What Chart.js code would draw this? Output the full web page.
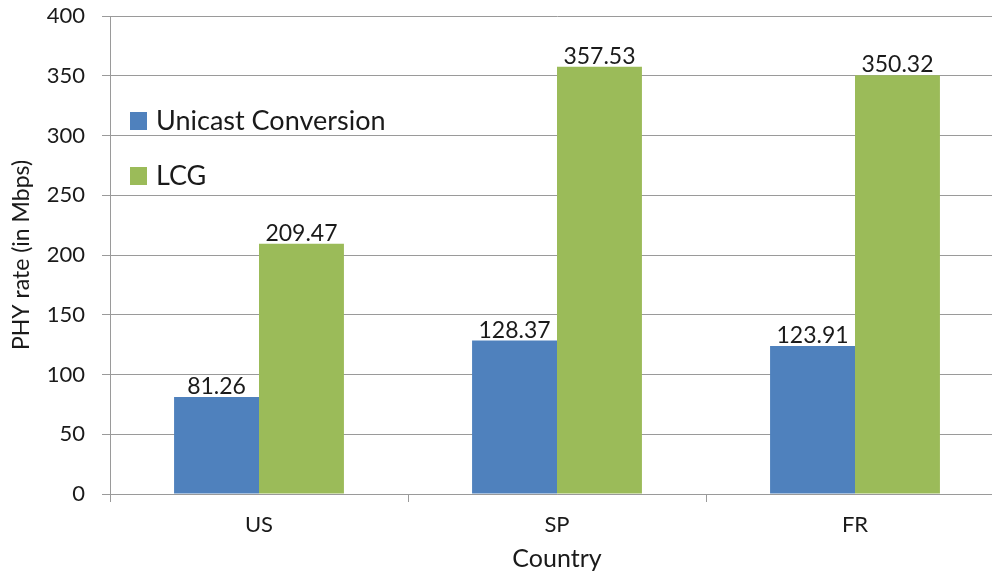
<!DOCTYPE html>
<html>
<head>
<meta charset="utf-8">
<script src="https://cdn.jsdelivr.net/npm/chart.js@4"></script>
<style>
    html, body { margin: 0; padding: 0; background: #fff; overflow: hidden; }
    #wrap { width: 1010px; height: 574px; position: relative; }
</style>
</head>
<body>
<div id="wrap"><canvas id="chart"></canvas></div>
<script>
const countries = ['US', 'SP', 'FR'];
const unicastValues = [81.26, 128.37, 123.91];
const lcgValues = [209.47, 357.53, 350.32];
const seriesNames = ['Unicast Conversion', 'LCG'];
const seriesColors = ['#4f81bd', '#9bbb59'];

const fontFamily = "Lato, 'Open Sans', sans-serif";
const gridColor = '#9a9a9a';

// values above each bar
const valueLabels = {
    id: 'valueLabels',
    afterDatasetsDraw(chart) {
        const ctx = chart.ctx;
        ctx.save();
        ctx.font = `23px ${fontFamily}`;
        ctx.fillStyle = '#1a1a1a';
        ctx.textAlign = 'center';
        ctx.textBaseline = 'bottom';
        chart.data.datasets.forEach((ds, i) => {
            chart.getDatasetMeta(i).data.forEach((bar, j) => {
                ctx.fillText(ds.data[j].toFixed(2), bar.x, bar.y + 1);
            });
        });
        ctx.restore();
    }
};

// legend drawn inside the plot, stacked
const insideLegend = {
    id: 'insideLegend',
    afterDraw(chart) {
        const ctx = chart.ctx;
        ctx.save();
        ctx.font = `27px ${fontFamily}`;
        ctx.textBaseline = 'middle';
        chart.data.datasets.forEach((ds, i) => {
            const y = 121 + i * 55;
            ctx.fillStyle = ds.backgroundColor;
            ctx.fillRect(130, y - 9, 17, 18);
            ctx.fillStyle = '#1a1a1a';
            ctx.fillText(ds.label, 156, y);
        });
        ctx.restore();
    }
};

new Chart(document.getElementById('chart'), {
    type: 'bar',
    data: {
        labels: countries,
        datasets: [
            { label: seriesNames[0], data: unicastValues, backgroundColor: seriesColors[0] },
            { label: seriesNames[1], data: lcgValues, backgroundColor: seriesColors[1] }
        ]
    },
    options: {
        responsive: true,
        maintainAspectRatio: false,
        animation: false,
        layout: { padding: { top: 16, right: 6, left: 0, bottom: 0 } },
        datasets: { bar: { categoryPercentage: 0.57, barPercentage: 1 } },
        plugins: {
            legend: { display: false },
            tooltip: { enabled: false }
        },
        scales: {
            x: {
                afterFit(scale) { scale.height = 80; },
                grid: { drawOnChartArea: false, color: gridColor, tickLength: 8 },
                border: { color: gridColor },
                ticks: { color: '#1a1a1a', font: { family: fontFamily, size: 22 }, padding: 10 },
                title: {
                    display: true, text: 'Country', color: '#1a1a1a',
                    font: { family: fontFamily, size: 25 }, padding: { top: 0, bottom: 0 }
                }
            },
            y: {
                min: 0, max: 400,
                afterFit(scale) {
                    scale.width = 110;
                    scale.paddingTop = 0;
                    scale.paddingBottom = 0;
                },
                grid: { color: gridColor, tickLength: 8 },
                border: { color: gridColor },
                ticks: { stepSize: 50, color: '#1a1a1a', font: { family: fontFamily, size: 22 }, padding: 17 },
                title: {
                    display: true, text: 'PHY rate (in Mbps)', color: '#1a1a1a',
                    font: { family: fontFamily, size: 23 }, padding: { top: 8, bottom: 0 }
                }
            }
        }
    },
    plugins: [valueLabels, insideLegend]
});
</script>
</body>
</html>
